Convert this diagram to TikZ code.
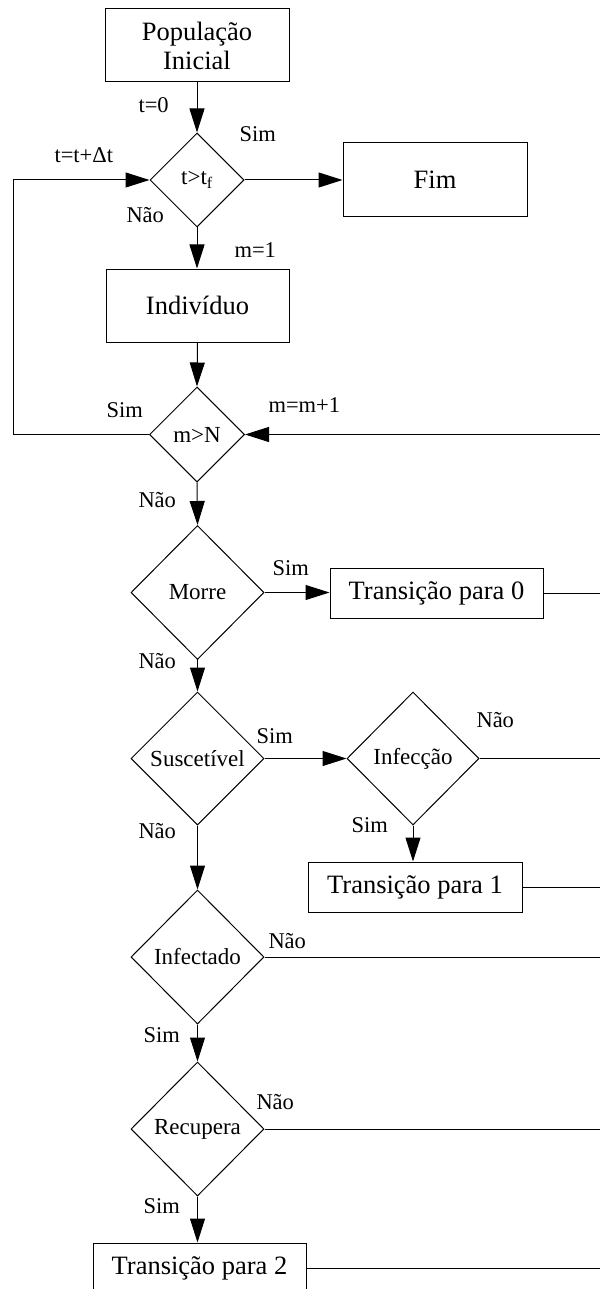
\documentclass[tikz,border=0pt]{standalone}
\usepackage{fontspec}
\setmainfont{Liberation Serif}
\usetikzlibrary{shapes.geometric,arrows.meta}
\begin{document}
\begin{tikzpicture}[x=1pt,y=-1pt,
  line width=1pt,
  box/.style={draw,rectangle,inner sep=0pt,font=\fontsize{26.5}{29}\selectfont,align=center},
  choice/.style={draw,diamond,inner sep=0pt,font=\fontsize{23}{26}\selectfont},
  lbl/.style={anchor=base west,inner sep=0pt,font=\fontsize{22.5}{25}\selectfont},
  flow/.style={-{Triangle[length=24pt,width=15pt]}},
]
\useasboundingbox (0,0) rectangle (600,1289);

% boxes
\node[box,minimum width=184pt,minimum height=73pt] (pop) at (197,45.5) {População\\Inicial};
\node[box,minimum width=184pt,minimum height=74pt] (fim) at (435,180) {Fim};
\node[box,minimum width=183pt,minimum height=73pt] (ind) at (197.5,305.5) {Indivíduo};
\node[box,minimum width=213pt,minimum height=50pt] (tz) at (436.5,593) {Transição para 0};
\node[box,minimum width=214pt,minimum height=50pt] (tu) at (415,887) {Transição para 1};
\node[box,minimum width=213pt,minimum height=50pt] (td) at (199.5,1268) {Transição para 2};

% decisions
\node[choice,minimum width=94pt,minimum height=94pt] (tt) at (197,180) {t>t\textsubscript{f}};
\node[choice,minimum width=95pt,minimum height=95pt] (mn) at (197,434.5) {m>N};
\node[choice,minimum width=133pt,minimum height=134pt] (mor) at (197.5,592.5) {Morre};
\node[choice,minimum width=133pt,minimum height=133pt] (sus) at (197.5,758.5) {Suscetível};
\node[choice,minimum width=132pt,minimum height=133pt] (inf) at (413,758.5) {Infecção};
\node[choice,minimum width=133pt,minimum height=134pt] (ifd) at (197.5,957) {Infectado};
\node[choice,minimum width=133pt,minimum height=134pt] (rec) at (197.5,1129) {Recupera};

% free ends on the right and the left loop corners
\coordinate (lt) at (13,180);
\coordinate (lb) at (13,434.5);
\coordinate (rmn) at (600,434.5);
\coordinate (rtz) at (600,593);
\coordinate (rinf) at (600,758.5);
\coordinate (rtu) at (600,887);
\coordinate (rifd) at (600,957);
\coordinate (rrec) at (600,1129);
\coordinate (rtd) at (600,1268);

% connectors
\draw[flow] (pop.south) -- (tt.north);
\draw[flow] (tt.east) -- (fim.west);
\draw[flow] (tt.south) -- (tt.south |- ind.north);
\draw[flow] (ind.south) -- (mn.north);
\draw[flow] (mn.west) -- (lb) -- (lt) -- (tt.west);
\draw[flow] (rmn) -- (mn.east);
\draw[flow] (mor.south) -- (sus.north);
\draw[flow] (mn.south) -- (mor.north);
\draw[flow] (mor.east) -- (mor.east -| tz.west);
\draw (tz.east) -- (rtz);
\draw[flow] (sus.east) -- (inf.west);
\draw (inf.east) -- (rinf);
\draw[flow] (inf.south) -- (inf.south |- tu.north);
\draw (tu.east) -- (rtu);
\draw[flow] (sus.south) -- (ifd.north);
\draw (ifd.east) -- (rifd);
\draw[flow] (ifd.south) -- (rec.north);
\draw (rec.east) -- (rrec);
\draw[flow] (rec.south) -- (rec.south |- td.north);
\draw (td.east) -- (rtd);

% branch labels
\node[lbl] (l1) at (138,113) {t=0};
\node[lbl] (l2) at (239,142) {Sim};
\node[lbl] (l3) at (54,163) {t=t+Δt};
\node[lbl] (l4) at (126,223) {Não};
\node[lbl] (l5) at (234,257) {m=1};
\node[lbl] (l6) at (106,417) {Sim};
\node[lbl] (l7) at (268,412) {m=m+1};
\node[lbl] (l8) at (138,507) {Não};
\node[lbl] (l9) at (272,575) {Sim};
\node[lbl] (l10) at (138,668) {Não};
\node[lbl] (l11) at (256,743) {Sim};
\node[lbl] (l12) at (476,727) {Não};
\node[lbl] (l13) at (351,832) {Sim};
\node[lbl] (l14) at (138,838) {Não};
\node[lbl] (l15) at (268,948) {Não};
\node[lbl] (l16) at (143,1042) {Sim};
\node[lbl] (l17) at (256,1109) {Não};
\node[lbl] (l18) at (143,1213) {Sim};
\end{tikzpicture}
\end{document}
